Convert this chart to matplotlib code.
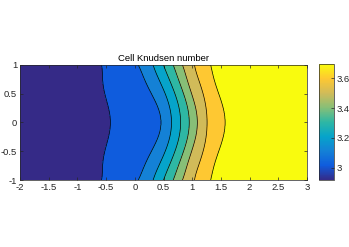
import matplotlib
matplotlib.use('agg')
import matplotlib.pyplot as plt
import numpy as np
from matplotlib.colors import LinearSegmentedColormap, Normalize
from matplotlib.cm import ScalarMappable

plt.rcParams['font.family'] = ['Liberation Sans', 'DejaVu Sans']

# parula-like palette (one colour per filled band)
band_colors = ["#352a87", "#0f5cdd", "#1481d6", "#06a4ca", "#2eb7a4",
               "#87bf77", "#d1bb59", "#fec832", "#f9fb0e"]

# value range of the field (colorbar limits)
kn_min = 2.916
kn_max = 3.697

# contour line values
line_levels = [2.99, 3.08, 3.17, 3.26, 3.35, 3.44, 3.53, 3.62]

# x position of each contour line read at these y rows (symmetric in y)
y_rows = [-1.0, -0.75, -0.5, -0.25, 0.0, 0.25, 0.5, 0.75, 1.0]
half_pos = [  # rows y = 1, 0.75, 0.5, 0.25, 0
    [-0.58, 0.06, 0.32, 0.50, 0.67, 0.83, 1.04, 1.32],
    [-0.56, 0.17, 0.42, 0.60, 0.76, 0.91, 1.11, 1.38],
    [-0.52, 0.29, 0.53, 0.70, 0.85, 0.99, 1.19, 1.46],
    [-0.46, 0.41, 0.61, 0.77, 0.92, 1.06, 1.24, 1.54],
    [-0.42, 0.455, 0.64, 0.80, 0.95, 1.09, 1.26, 1.57],
]
line_pos = np.array(half_pos + half_pos[-2::-1])[::-1]

xticks = [-2, -1.5, -1, -0.5, 0, 0.5, 1, 1.5, 2, 2.5, 3]
yticks = [-1, -0.5, 0, 0.5, 1]
cbar_ticks = [3, 3.2, 3.4, 3.6]

# build the field from the read line positions (smooth fit along y)
xg = np.linspace(-2, 3, 801)
yg = np.linspace(-1, 1, 321)
fits = [np.polyfit(y_rows, line_pos[:, k], 6) for k in range(len(line_levels))]
Z = np.zeros((len(yg), len(xg)))
for i, yy in enumerate(yg):
    pos = [np.polyval(f, yy) for f in fits]
    Z[i] = np.interp(xg, [-2] + pos + [3], [kn_min] + line_levels + [kn_max])

fig = plt.figure(figsize=(3.49, 2.47), dpi=100)
W, H = 349, 247
ax = fig.add_axes([20 / W, 67 / H, 287 / W, 115 / H])
cax = fig.add_axes([319 / W, 67 / H, 15 / W, 116 / H])

lev = [kn_min - 0.01] + line_levels + [kn_max + 0.01]
ax.contourf(xg, yg, Z, levels=lev, colors=band_colors)
ax.contour(xg, yg, Z, levels=line_levels, colors='k', linewidths=0.5)

tc = '#262626'
ax.set_xlim(-2, 3)
ax.set_ylim(-1, 1)
ax.set_xticks(xticks)
ax.set_xticklabels([('%g' % t) for t in xticks])
ax.set_yticks(yticks)
ax.set_yticklabels([('%g' % t) for t in yticks])
ax.tick_params(direction='in', length=2.5, width=0.5, labelsize=6.8, colors=tc,
               top=True, right=True, pad=2)
for s in ax.spines.values():
    s.set_linewidth(0.5)
    s.set_color(tc)
ax.set_title('Cell Knudsen number', fontsize=6.8, color='#000000', pad=3)

cmap = LinearSegmentedColormap.from_list('parula', band_colors)
sm = ScalarMappable(norm=Normalize(kn_min, kn_max), cmap=cmap)
cb = fig.colorbar(sm, cax=cax, ticks=cbar_ticks)
cb.ax.set_yticklabels([('%g' % t) for t in cbar_ticks])
cb.ax.tick_params(direction='in', length=2, width=0.5, labelsize=6.8, colors=tc, pad=2)
cb.outline.set_linewidth(0.5)
cb.outline.set_edgecolor(tc)

fig.savefig('out.png', dpi=100)
